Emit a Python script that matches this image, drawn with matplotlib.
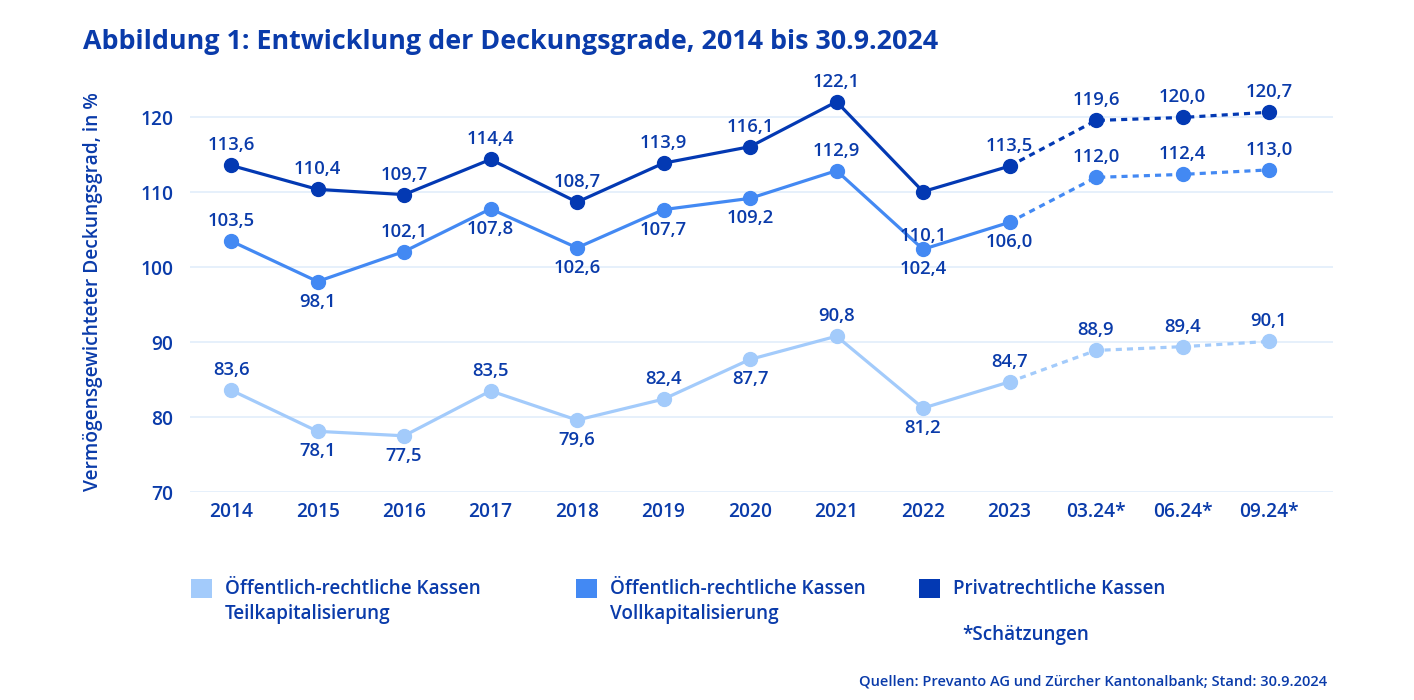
import matplotlib
matplotlib.use("Agg")
import matplotlib.pyplot as plt
from matplotlib.patches import Rectangle

# ---- data ----
categories = ["2014", "2015", "2016", "2017", "2018", "2019", "2020",
              "2021", "2022", "2023", "03.24*", "06.24*", "09.24*"]
teil = [83.6, 78.1, 77.5, 83.5, 79.6, 82.4, 87.7, 90.8, 81.2, 84.7, 88.9, 89.4, 90.1]
voll = [103.5, 98.1, 102.1, 107.8, 102.6, 107.7, 109.2, 112.9, 102.4, 106.0, 112.0, 112.4, 113.0]
privat = [113.6, 110.4, 109.7, 114.4, 108.7, 113.9, 116.1, 122.1, 110.1, 113.5, 119.6, 120.0, 120.7]
# label placement: +1 above, -1 below
teil_pos = [1, -1, -1, 1, -1, 1, -1, 1, -1, 1, 1, 1, 1]
voll_pos = [1, -1, 1, -1, -1, -1, -1, 1, -1, -1, 1, 1, 1]
privat_pos = [1, 1, 1, 1, 1, 1, 1, 1, -2.2, 1, 1, 1, 1]
legend_labels = ["Öffentlich-rechtliche Kassen\nTeilkapitalisierung",
                 "Öffentlich-rechtliche Kassen\nVollkapitalisierung",
                 "Privatrechtliche Kassen"]
yticks = [70, 80, 90, 100, 110, 120]

# ---- style ----
FONT = ["Open Sans", "DejaVu Sans"]
plt.rcParams["font.family"] = FONT
W = "semibold"
TXT = "#0A3BAA"
C_LIGHT = "#A3CBFB"
C_MED = "#4389F3"
C_DARK = "#0339B3"
GRID = "#E2EDFB"
FS = 13.3
FT = 13.8

fig = plt.figure(figsize=(14.14, 7.0), dpi=100)
ax = fig.add_axes([190/1414, 1-492/700, (1333-190)/1414, (492-80)/700])

n_actual = 10
x = list(range(len(categories)))
for vals, pos, col in [(teil, teil_pos, C_LIGHT), (voll, voll_pos, C_MED), (privat, privat_pos, C_DARK)]:
    ax.plot(x[:n_actual], vals[:n_actual], color=col, lw=2.3, zorder=3, clip_on=False)
    ax.plot(x[n_actual-1:], vals[n_actual-1:], color=col, lw=2.3, ls=(0, (1.9, 1.6)), zorder=3, clip_on=False)
    ax.plot(x, vals, 'o', color=col, ms=10, zorder=4, clip_on=False)
    for xi, v, p in zip(x, vals, pos):
        ax.annotate(f"{v:.1f}".replace(".", ","), (xi, v), xytext=(0, 20*p),
                    textcoords="offset pixels", ha="center", va="center",
                    fontsize=FS, fontweight=W, color=TXT, zorder=5)

ax.set_xlim(-0.475, 12.74)
ax.set_ylim(70, 125)
ax.set_yticks(yticks)
ax.set_yticklabels([str(t) for t in yticks])
ax.set_xticks(x)
ax.set_xticklabels(categories)
ax.tick_params(axis="both", length=0, labelsize=FT, labelcolor=TXT)
ax.tick_params(axis="y", pad=12)
ax.tick_params(axis="x", pad=7)
for lab in ax.get_xticklabels() + ax.get_yticklabels():
    lab.set_fontweight(W)
for s in ax.spines.values():
    s.set_visible(False)
ax.grid(axis="y", color=GRID, lw=1.2, zorder=0)
ax.set_axisbelow(True)

fig.text(93/1414, 1-292/700, "Vermögensgewichteter Deckungsgrad, in %", rotation=90,
         ha="center", va="center", fontsize=13.8, fontweight=W, color=TXT)

fig.text(83/1414, 1-42/700, "Abbildung 1: Entwicklung der Deckungsgrade, 2014 bis 30.9.2024",
         ha="left", va="center", fontsize=19.4, fontweight="bold", color=TXT)

# legend
for lx, col, lab in [(191, C_LIGHT, legend_labels[0]), (576, C_MED, legend_labels[1]), (919, C_DARK, legend_labels[2])]:
    fig.patches.append(Rectangle((lx/1414, 1-598/700), 21/1414, 19/700, transform=fig.transFigure,
                                 facecolor=col, edgecolor="none"))
    fig.text((lx+34)/1414, 1-579/700, lab, ha="left", va="top", fontsize=13.6, fontweight=W,
             color=TXT, linespacing=1.3)
fig.text(962/1414, 1-635/700, "*Schätzungen", ha="left", va="center", fontsize=13.6, fontweight=W, color=TXT)
fig.text(1327/1414, 1-682/700, "Quellen: Prevanto AG und Zürcher Kantonalbank; Stand: 30.9.2024",
         ha="right", va="center", fontsize=10.5, fontweight=W, color=TXT)

fig.savefig("out.png", dpi=100, facecolor="white")
